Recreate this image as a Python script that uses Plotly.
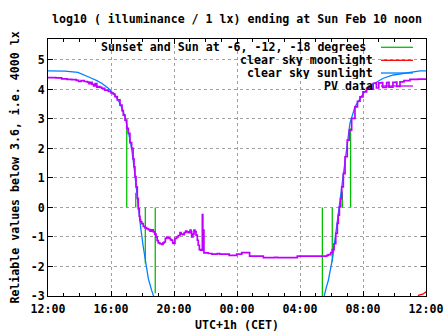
import pandas as pd
import plotly.graph_objects as go

# ---------------- data (hours after Sat Feb 9 12:00, CET) ----------------
START = pd.Timestamp("2019-02-09 12:00")

# Sunset / Sun at -6, -12, -18 degrees (impulses from 0)
twilight_h = [5.00, 5.57, 6.18, 6.81, 17.42, 18.05, 18.69, 19.21]
twilight_v = [2.68, 0.50, -1.90, -2.91, -3.20, -1.84, 0.54, 2.68]

# clear sky moonlight
moon_h = [23.45, 23.55, 23.80, 24.00]
moon_v = [-3.05, -2.97, -2.94, -2.86]

# clear sky sunlight
sun_h = [0.0, 1.08, 1.9, 2.3, 2.77, 3.1, 3.41, 3.83, 4.25, 4.57, 4.89, 5.1, 5.31,
         5.46, 5.59, 5.73, 5.88, 6.05, 6.2, 6.37, 6.58, 6.69, 6.8,
         None,
         17.4, 17.52, 17.65, 17.8, 17.95, 18.08, 18.16, 18.27, 18.37, 18.5, 18.65,
         18.75, 18.86, 19.0, 19.17, 19.49, 20.02, 20.55, 21.29, 21.92, 22.77, 23.62, 24.0]
sun_v = [4.63, 4.62, 4.58, 4.50, 4.38, 4.30, 4.21, 4.04, 3.81, 3.53, 3.08, 2.57, 2.00,
         1.38, 0.75, -0.09, -0.66, -1.34, -1.90, -2.41, -2.81, -2.98, -3.30,
         None,
         -3.30, -2.98, -2.75, -2.47, -2.07, -1.68, -1.34, -0.88, -0.43, 0.02, 0.70,
         1.15, 1.72, 2.28, 2.85, 3.41, 3.87, 4.15, 4.38, 4.49, 4.57, 4.63, 4.63]

# PV data
pv_h = [0.0, 0.5, 0.87, 1.2, 1.5, 1.8, 1.95, 2.1, 2.3, 2.5, 2.6, 2.7, 2.8, 2.9, 3.0,
        3.1, 3.2, 3.3, 3.41, 3.6, 3.83, 4.0, 4.15, 4.25, 4.4, 4.57, 4.7, 4.78, 4.89,
        5.0, 5.1, 5.2, 5.31, 5.4, 5.46, 5.52, 5.59, 5.67, 5.73, 5.8, 5.84, 5.88, 5.95,
        6.05, 6.15, 6.26, 6.37, 6.48, 6.58, 6.69, 6.78, 6.86, 6.93, 7.0, 7.1, 7.22,
        7.3, 7.37, 7.45, 7.54, 7.62, 7.7, 7.78, 7.85, 7.92, 7.96, 8.06, 8.13, 8.17,
        8.27, 8.38, 8.45, 8.55, 8.65, 8.74, 8.82, 8.91, 9.02, 9.08, 9.12, 9.2, 9.27,
        9.33, 9.4, 9.48, 9.54, 9.61, 9.69, 9.75, 9.8, 9.83, 9.86, 9.9, 10.18, 10.4,
        10.6, 10.75, 10.9, 11.5, 11.98, 12.3, 12.8, 13.67, 14.4, 14.56, 15.83, 17.7,
        17.8, 17.95, 18.05, 18.16, 18.27, 18.37, 18.43, 18.5, 18.58, 18.65, 18.75,
        18.86, 19.0, 19.13, 19.28, 19.49, 19.65, 19.81, 20.0, 20.23, 20.4, 20.45,
        20.65, 20.8, 20.85, 21.0, 21.2, 21.25, 21.5, 21.6, 21.65, 21.9, 22.1, 22.15,
        22.35, 22.6, 22.98, 23.5, 24.0]
pv_v = [4.40, 4.39, 4.36, 4.34, 4.33, 4.31, 4.27, 4.30, 4.27, 4.25, 4.20, 4.24, 4.17,
        4.12, 4.20, 4.08, 4.10, 4.07, 4.04, 3.98, 3.93, 3.88, 3.84, 3.76, 3.65, 3.47,
        3.28, 3.13, 2.96, 2.68, 2.51, 2.20, 2.00, 1.65, 1.38, 1.05, 0.70, 0.31, -0.05,
        -0.30, -0.43, -0.49, -0.55, -0.64, -0.68, -0.72, -0.75, -0.80, -0.76, -0.83,
        -0.90, -1.00, -1.12, -1.20, -1.23, -1.25, -1.20, -1.17, -1.05, -1.00, -1.03,
        -1.05, -1.10, -1.11, -1.20, -1.22, -1.05, -1.05, -1.00, -0.95, -0.85, -0.90,
        -0.92, -0.85, -0.80, -0.83, -0.85, -0.77, -0.82, -1.00, -0.90, -0.77, -0.82,
        -0.94, -1.11, -1.28, -1.43, -1.45, -1.45, -0.24, -1.45, -0.77, -1.54, -1.56,
        -1.58, -1.58, -1.56, -1.58, -1.62, -1.58, -1.53, -1.65, -1.70, -1.69, -1.70,
        -1.65, -1.62, -1.60, -1.53, -1.43, -1.23, -0.88, -0.54, -0.26, 0.02, 0.30,
        0.70, 1.15, 1.72, 2.28, 2.62, 3.02, 3.41, 3.60, 3.75, 3.92, 4.04, 4.12, 4.02,
        4.21, 4.22, 4.05, 4.22, 4.23, 4.07, 4.23, 4.24, 4.08, 4.24, 4.25, 4.10, 4.26,
        4.30, 4.34, 4.35, 4.36]

y_ticks = [-3, -2, -1, 0, 1, 2, 3, 4, 5]
y_ticklabels = ["-3", "-2", "-1", "0", "1", "2", "3", "4", "5"]

legend_names = ["Sunset and Sun at -6, -12, -18 degrees", "clear sky moonlight",
                "clear sky sunlight", "PV data"]
colors = ["#00c000", "#ff0000", "#0080ff", "#c000ff"]

TITLE = "log10 ( illuminance / 1 lx) ending at Sun Feb 10 noon"
XTITLE = "UTC+1h (CET)"
YTITLE = "Reliable values below 3.6, i.e. 4000 lx"


def to_time(hours):
    return [None if h is None else START + pd.Timedelta(hours=h) for h in hours]


# impulses
imp_x, imp_y = [], []
for t, v in zip(to_time(twilight_h), twilight_v):
    imp_x += [t, t, None]
    imp_y += [0, v, None]

FONT = "DejaVu Sans Mono"
FS = 11.6
fig = go.Figure()
fig.add_trace(go.Scatter(x=imp_x, y=imp_y, mode="lines", name=legend_names[0],
                         line=dict(color=colors[0], width=1.3)))
fig.add_trace(go.Scatter(x=to_time(moon_h), y=moon_v, mode="lines", name=legend_names[1],
                         line=dict(color=colors[1], width=1.3)))
fig.add_trace(go.Scatter(x=to_time(sun_h), y=sun_v, mode="lines", name=legend_names[2],
                         line=dict(color=colors[2], width=1.3), connectgaps=False))
fig.add_trace(go.Scatter(x=to_time(pv_h), y=pv_v, mode="lines", name=legend_names[3],
                         line=dict(color=colors[3], width=1.7, shape="hv")))

# gnuplot-style key (text right, sample line on the right)
L, R, T, B = 48, 426, 39, 296
W, H = R - L, B - T
px = lambda x: (x - L) / W
py = lambda y: (B - y) / H
fig.add_shape(type="rect", xref="paper", yref="paper", x0=px(100), x1=px(421),
              y0=py(93), y1=py(40), fillcolor="white", line=dict(width=0), layer="between")
rows = [47.3, 60.3, 73.0, 86.0]
text_right = [367, 374, 374, 374]
for name, col, ry, tx in zip(legend_names, colors, rows, text_right):
    fig.add_annotation(xref="paper", yref="paper", x=px(tx), y=py(ry), text=name,
                       showarrow=False, xanchor="right", yanchor="middle",
                       height=12, borderpad=0,
                       font=dict(family=FONT, size=FS, color="black", weight="bold"))
    fig.add_shape(type="line", xref="paper", yref="paper", x0=px(381), x1=px(413),
                  y0=py(ry), y1=py(ry), line=dict(color=col, width=1.3))

fig.update_layout(
    width=447, height=335,
    margin=dict(l=L, r=447 - R, t=T, b=335 - B, autoexpand=False),
    paper_bgcolor="white", plot_bgcolor="white",
    showlegend=False,
    font=dict(family=FONT, size=FS, color="black", weight="bold"),
    title=dict(text=TITLE, x=0.5, xanchor="center", xref="paper", y=1 - 19 / 335,
               yanchor="middle", font=dict(family=FONT, size=FS, weight="bold")),
)
fig.update_xaxes(
    type="date", automargin=False,
    range=[START, START + pd.Timedelta(hours=24)],
    dtick=4 * 3600 * 1000, tick0=START, tickformat="%H:%M",
    showgrid=True, gridcolor="#a0a0a0", griddash="dot", gridwidth=1,
    showline=True, linecolor="black", linewidth=1, mirror="allticks",
    ticks="inside", ticklen=5, tickcolor="black", ticklabelstandoff=2,
    minor=dict(dtick=3600 * 1000, ticks="inside", ticklen=3, tickcolor="black", showgrid=False),
    zeroline=False,
    title=dict(text=XTITLE, standoff=5, font=dict(family=FONT, size=FS, weight="bold")),
    tickfont=dict(family=FONT, size=FS, weight="bold"),
)
fig.update_yaxes(
    automargin=False,
    range=[-3, 5.71],
    tickvals=y_ticks, ticktext=y_ticklabels,
    showgrid=True, gridcolor="#a0a0a0", griddash="dot", gridwidth=1,
    showline=True, linecolor="black", linewidth=1, mirror="allticks",
    ticks="inside", ticklen=5, tickcolor="black",
    zeroline=False,
    title=dict(text=YTITLE, standoff=8, font=dict(family=FONT, size=FS, weight="bold")),
    tickfont=dict(family=FONT, size=FS, weight="bold"),
)

fig.write_html("out.html")
